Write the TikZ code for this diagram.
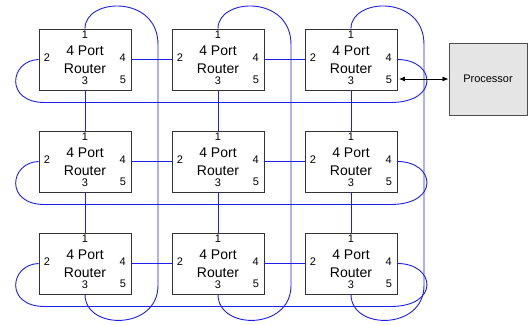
\documentclass[tikz,border=0pt]{standalone}
\usepackage{fontspec}
\setmainfont{Liberation Sans}
\usetikzlibrary{calc,arrows.meta}
\definecolor{wireblue}{RGB}{30,30,235}
\begin{document}
\begin{tikzpicture}[x=1pt,y=-1pt,
 router/.style={draw=black!80, line width=0.9pt, minimum width=92pt, minimum height=61pt, inner sep=0pt, align=center, font=\fontsize{14}{18}\selectfont},
 port/.style={inner sep=0pt, font=\fontsize{11}{13}\selectfont},
 wire/.style={draw=wireblue, line width=0.9pt},
 proc/.style={draw=black!70, fill=black!10, line width=1pt, minimum width=78pt, minimum height=72pt, inner sep=0pt, font=\fontsize{11}{13}\selectfont}]
\useasboundingbox (0,0) rectangle (529,324);
% routers
\foreach \r/\y in {1/59.5,2/161.5,3/263.5}{
 \foreach \c/\x in {1/85,2/218,3/351}{
  \node[router] (r\r\c) at (\x,\y) {4 Port\\Router};
  \node[port] (r\r\c-1) at ($(r\r\c.center)+(0,-24.5)$) {1};
  \node[port] (r\r\c-2) at ($(r\r\c.center)+(-38,-1.5)$) {2};
  \node[port] (r\r\c-3) at ($(r\r\c.center)+(0,21.5)$) {3};
  \node[port] (r\r\c-4) at ($(r\r\c.center)+(37.7,-1.5)$) {4};
  \node[port] (r\r\c-5) at ($(r\r\c.center)+(38,20.5)$) {5};
 }
}
% horizontal links
\foreach \r in {1,2,3}{
 \draw[wire] (r\r1.east) -- (r\r2.west);
 \draw[wire] (r\r2.east) -- (r\r3.west);
}
% vertical links
\foreach \c in {1,2,3}{
 \draw[wire] (r1\c.south) -- (r2\c.north);
 \draw[wire] (r2\c.south) -- (r3\c.north);
}
% row wrap-around links
\foreach \r in {1,2,3}{
 \draw[wire] (r\r1.west) .. controls ($(r\r1.west)+(-29,1)$) and ($(r\r1.west)+(-34,43)$) .. ($(r\r1.west)+(6,43)$)
   -- ($(r\r3.east)+(-7,43)$) .. controls ($(r\r3.east)+(43,43)$) and ($(r\r3.east)+(38,0)$) .. (r\r3.east);
}
% column wrap-around links
\foreach \c in {1,2,3}{
 \draw[wire] (r1\c.north) .. controls ($(r1\c.north)+(0,-31)$) and ($(r1\c.north)+(73,-34)$) .. ($(r1\c.north)+(73,16)$)
   -- ($(r3\c.south)+(73,-9)$) .. controls ($(r3\c.south)+(73,36)$) and ($(r3\c.south)+(0,36)$) .. (r3\c.south);
}
% processor
\node[proc] (proc) at (488,79) {Processor};
\draw[{Latex[length=6pt,width=5pt]}-{Latex[length=6pt,width=5pt]}, line width=0.8pt, shorten <=1.5pt] (r13.east |- proc.west) -- (proc.west);
\end{tikzpicture}
\end{document}
